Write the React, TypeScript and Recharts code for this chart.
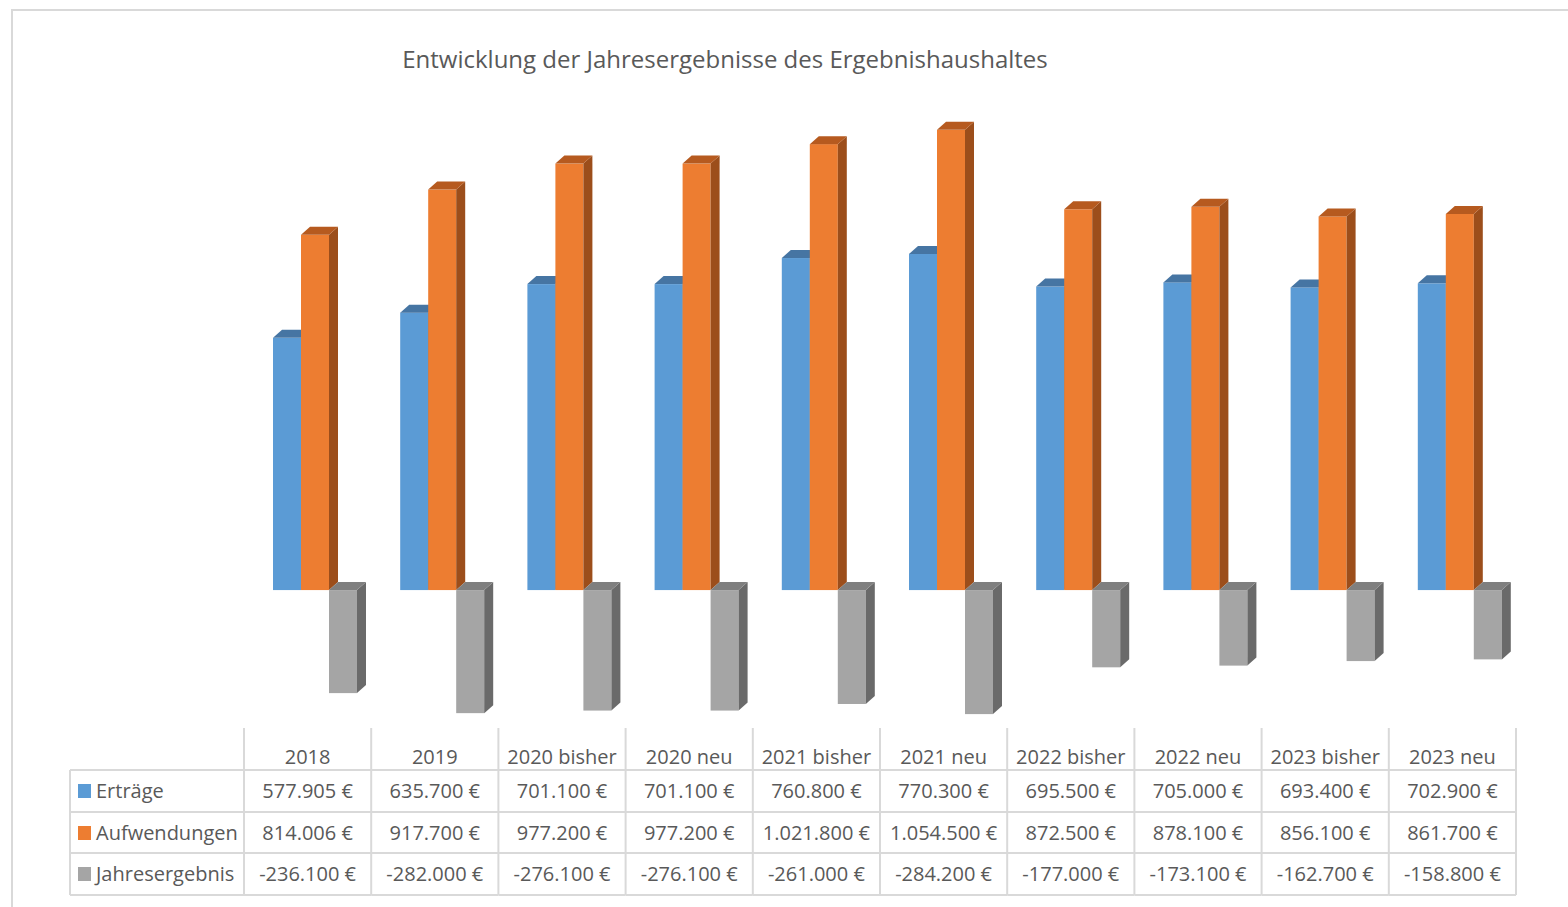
import React from "react";
import { BarChart, Bar, XAxis, YAxis } from "recharts";

const categories = ["2018", "2019", "2020 bisher", "2020 neu", "2021 bisher", "2021 neu", "2022 bisher", "2022 neu", "2023 bisher", "2023 neu"];
const ertraege = [577905, 635700, 701100, 701100, 760800, 770300, 695500, 705000, 693400, 702900];
const aufwendungen = [814006, 917700, 977200, 977200, 1021800, 1054500, 872500, 878100, 856100, 861700];
const jahresergebnis = [-236100, -282000, -276100, -276100, -261000, -284200, -177000, -173100, -162700, -158800];

const seriesNames = ["Erträge", "Aufwendungen", "Jahresergebnis"];
const seriesKeys = ["ertraege", "aufwendungen", "jahresergebnis"];
const seriesValues = [ertraege, aufwendungen, jahresergebnis];
const front = ["#5B9BD5", "#ED7D31", "#A5A5A5"];
const topFace = ["#4675A3", "#B65A1F", "#7F7F7F"];
const sideFace = ["#3F6A94", "#9C4E1B", "#6A6A6A"];

const data = categories.map((c, i) => ({
  cat: c,
  ertraege: ertraege[i],
  aufwendungen: aufwendungen[i],
  jahresergebnis: jahresergebnis[i],
}));

const W = 1568;
const H = 907;
const M = { top: 110, right: 52, bottom: 156, left: 244 };
const BAND = (W - M.left - M.right) / categories.length;
const DX = 9;
const DY = 8;
const SHIFT = 7;
const FONT = "'Open Sans', 'Noto Sans', sans-serif";
const TXT = "#595959";
const GRID = "#D9D9D9";

const fmt = (v: number) => {
  const neg = v < 0;
  const s = String(Math.abs(Math.round(v)));
  let out = "";
  for (let i = 0; i < s.length; i++) {
    const fromEnd = s.length - i;
    out += s[i];
    if (fromEnd > 1 && (fromEnd - 1) % 3 === 0) out += ".";
  }
  return (neg ? "-" : "") + out + " €";
};

const make3D = (si: number) => (props: any) => {
  const { x, y, width, height } = props;
  if (x == null || y == null) return null;
  const top = height < 0 ? y + height : y;
  const h = Math.abs(height);
  const x0 = x + SHIFT;
  const w = width;
  return (
    <g>
      <rect x={x0} y={top} width={w} height={h} fill={front[si]} />
      <polygon
        points={`${x0 + w},${top} ${x0 + w + DX},${top - DY} ${x0 + w + DX},${top + h - DY} ${x0 + w},${top + h}`}
        fill={sideFace[si]}
      />
      <polygon
        points={`${x0},${top} ${x0 + w},${top} ${x0 + w + DX},${top - DY} ${x0 + DX},${top - DY}`}
        fill={topFace[si]}
      />
    </g>
  );
};

const ROW_TOP = 728;
const ROWS = [770, 812, 853, 895];
const LEG_LEFT = 70;

const TableTick = (props: any) => {
  const { x, payload } = props;
  const idx = props.index ?? payload?.index ?? 0;
  const left = x - BAND / 2;
  const right = x + BAND / 2;
  const isFirst = idx === 0;
  const isLast = idx === categories.length - 1;
  return (
    <g fontFamily={FONT} fontSize={20} fill={TXT}>
      <line x1={left} x2={left} y1={ROW_TOP} y2={ROWS[3]} stroke={GRID} strokeWidth={2} />
      {isLast && <line x1={right} x2={right} y1={ROW_TOP} y2={ROWS[3]} stroke={GRID} strokeWidth={2} />}
      {ROWS.map((ry, r) => (
        <line key={r} x1={left} x2={right} y1={ry} y2={ry} stroke={GRID} strokeWidth={2} />
      ))}
      <text x={x} y={764} textAnchor="middle" fill={TXT}>{payload.value}</text>
      {seriesValues.map((vals, r) => (
        <text key={r} x={x} y={ROWS[r] + 28} textAnchor="middle" fill={TXT}>
          {fmt(vals[idx])}
        </text>
      ))}
      {isFirst && (
        <g>
          <line x1={LEG_LEFT} x2={LEG_LEFT} y1={ROWS[0]} y2={ROWS[3]} stroke={GRID} strokeWidth={2} />
          {ROWS.map((ry, r) => (
            <line key={r} x1={LEG_LEFT} x2={left} y1={ry} y2={ry} stroke={GRID} strokeWidth={2} />
          ))}
          {seriesNames.map((n, r) => (
            <g key={n}>
              <rect x={78} y={ROWS[r] + 14} width={13} height={14} fill={front[r]} />
              <text x={96} y={ROWS[r] + 28} textAnchor="start" fill={TXT}>{n}</text>
            </g>
          ))}
        </g>
      )}
    </g>
  );
};

export default function App() {
  return (
    <div style={{ position: "absolute", left: 0, top: 0, width: W, height: H, overflow: "hidden", background: "#fff" }}>
      <div
        style={{
          position: "absolute",
          left: 11,
          top: 9,
          width: W,
          height: H,
          border: "2px solid #D9D9D9",
          boxSizing: "border-box",
        }}
      />
      <div
        style={{
          position: "absolute",
          left: 0,
          width: 1450,
          top: 42,
          textAlign: "center",
          fontFamily: FONT,
          fontSize: 24,
          color: TXT,
        }}
      >
        Entwicklung der Jahresergebnisse des Ergebnishaushaltes
      </div>
      <div style={{ position: "absolute", left: 0, top: 0 }}>
        <BarChart width={W} height={H} data={data} margin={M} barGap={0} barSize={28}>
          <XAxis
            dataKey="cat"
            axisLine={false}
            tickLine={false}
            interval={0}
            height={30}
            tick={(p: any) => <TableTick {...p} />}
          />
          <YAxis hide domain={[-300000, 1100000]} />
          {seriesKeys.map((k, i) => (
            <Bar key={k} dataKey={k} name={seriesNames[i]} fill={front[i]} isAnimationActive={false} shape={make3D(i)} />
          ))}
        </BarChart>
      </div>
    </div>
  );
}
